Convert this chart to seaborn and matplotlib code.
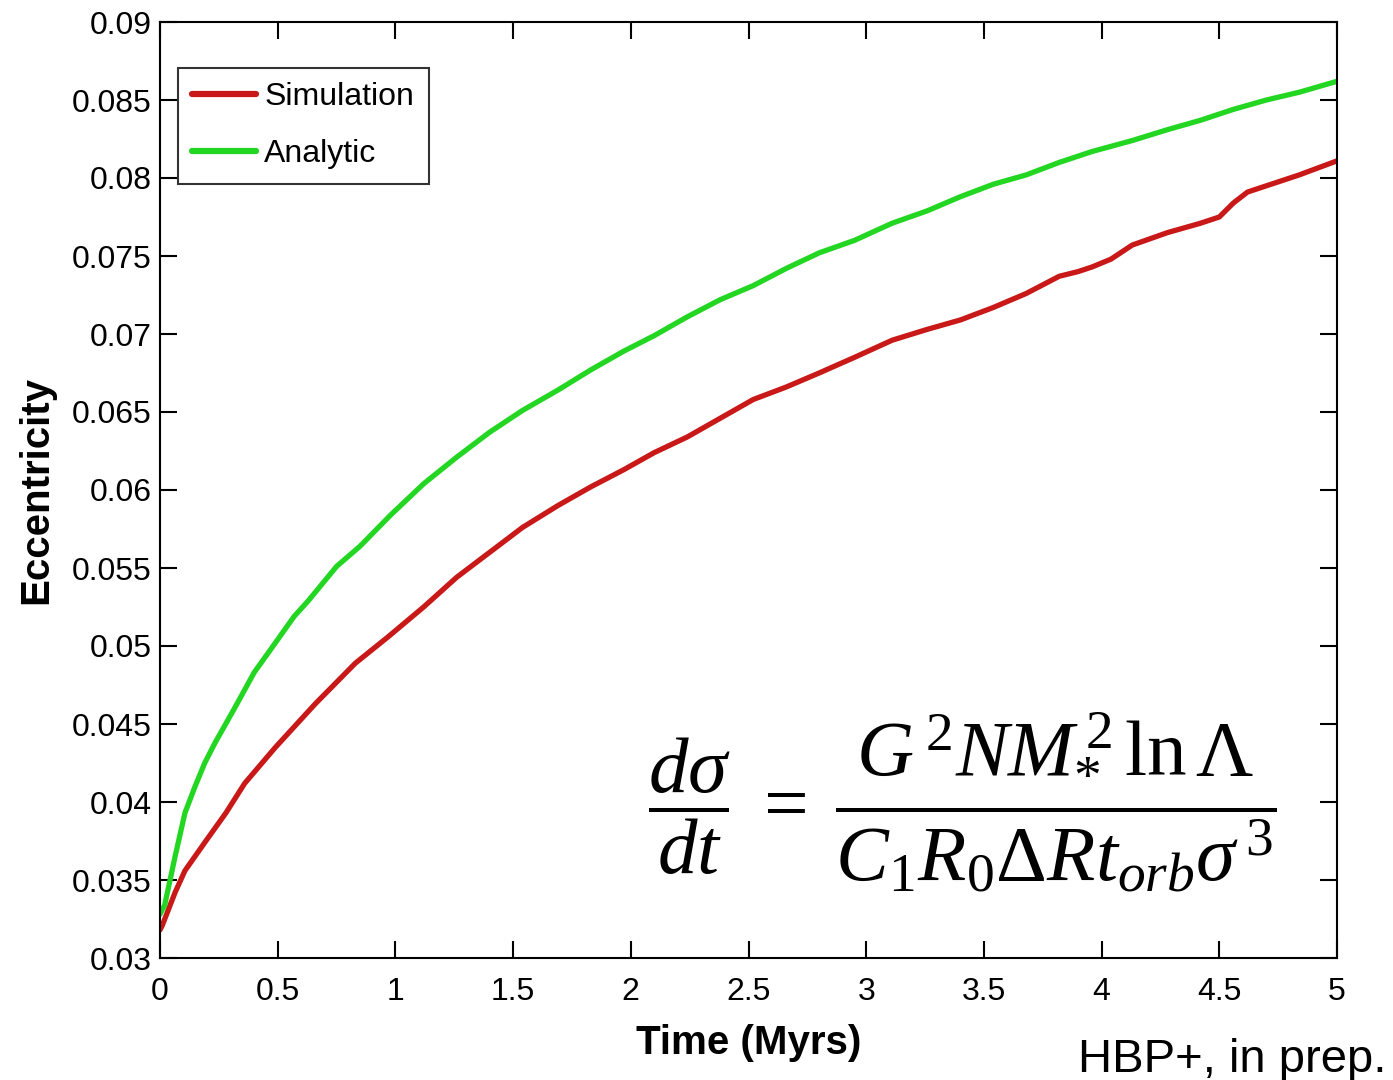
import numpy as np
import pandas as pd
import matplotlib
matplotlib.use("Agg")
import matplotlib.pyplot as plt
import seaborn as sns
from matplotlib.ticker import FuncFormatter, MultipleLocator

# ---- data ----
t_sim = [0, 0.01, 0.064, 0.106, 0.19, 0.28, 0.36, 0.49, 0.66, 0.83, 0.97, 1.12, 1.26,
         1.40, 1.54, 1.69, 1.83, 1.97, 2.10, 2.24, 2.38, 2.52, 2.66, 2.80, 2.95, 3.11,
         3.26, 3.40, 3.54, 3.68, 3.82, 3.90, 3.96, 4.04, 4.13, 4.28, 4.42, 4.50, 4.56,
         4.62, 4.70, 4.84, 5.0]
e_sim = [0.0318, 0.0321, 0.0342, 0.0356, 0.0374, 0.0393, 0.0412, 0.0435, 0.0463, 0.0489,
         0.0506, 0.0525, 0.0544, 0.0560, 0.0576, 0.0590, 0.0602, 0.0613, 0.0624, 0.0634,
         0.0646, 0.0658, 0.0666, 0.0675, 0.0685, 0.0696, 0.0703, 0.0709, 0.0717, 0.0726,
         0.0737, 0.0740, 0.0743, 0.0748, 0.0757, 0.0765, 0.0771, 0.0775, 0.0784, 0.0791,
         0.0795, 0.0802, 0.0811]

t_ana = [0, 0.02, 0.064, 0.106, 0.149, 0.19, 0.234, 0.32, 0.40, 0.49, 0.57, 0.63, 0.75,
         0.85, 0.98, 1.12, 1.26, 1.40, 1.54, 1.69, 1.83, 1.97, 2.10, 2.24, 2.38, 2.52,
         2.66, 2.80, 2.95, 3.11, 3.26, 3.40, 3.54, 3.68, 3.82, 3.96, 4.13, 4.28, 4.42,
         4.56, 4.70, 4.84, 5.0]
e_ana = [0.0328, 0.0334, 0.0365, 0.0393, 0.0410, 0.0425, 0.0438, 0.0461, 0.0483, 0.0502,
         0.0519, 0.0529, 0.0551, 0.0564, 0.0584, 0.0604, 0.0621, 0.0637, 0.0651, 0.0664,
         0.0677, 0.0689, 0.0699, 0.0711, 0.0722, 0.0731, 0.0742, 0.0752, 0.0760, 0.0771,
         0.0779, 0.0788, 0.0796, 0.0802, 0.0810, 0.0817, 0.0824, 0.0831, 0.0837, 0.0844,
         0.0850, 0.0855, 0.0862]

series_names = ["Simulation", "Analytic"]
series_colors = ["#c81818", "#22d622"]

df = pd.concat([
    pd.DataFrame({"Time": t_sim, "Eccentricity": e_sim, "series": series_names[0]}),
    pd.DataFrame({"Time": t_ana, "Eccentricity": e_ana, "series": series_names[1]}),
])

sns.set_theme(style="ticks")
plt.rcParams["font.family"] = ["Liberation Sans", "DejaVu Sans"]
plt.rcParams["mathtext.fontset"] = "custom"
plt.rcParams["mathtext.rm"] = "Liberation Serif"
plt.rcParams["mathtext.it"] = "Liberation Serif:italic"
plt.rcParams["mathtext.bf"] = "Liberation Serif:bold"

fig = plt.figure(figsize=(13.93, 10.8), dpi=100)
ax = fig.add_axes([160 / 1393, 1 - 958 / 1080, (1337 - 160) / 1393, (958 - 22) / 1080])

sns.lineplot(data=df, x="Time", y="Eccentricity", hue="series",
             hue_order=series_names, palette=series_colors, linewidth=3.8,
             ax=ax, sort=False, estimator=None)

ax.set_xlim(0, 5)
ax.set_ylim(0.03, 0.09)
ax.xaxis.set_major_locator(MultipleLocator(0.5))
ax.yaxis.set_major_locator(MultipleLocator(0.005))

def fmt(v, pos):
    s = f"{v:.3f}".rstrip("0").rstrip(".")
    return s

ax.xaxis.set_major_formatter(FuncFormatter(fmt))
ax.yaxis.set_major_formatter(FuncFormatter(fmt))
ax.tick_params(direction="in", length=12, width=1.5, top=True, right=True,
               labelsize=23, colors="black")
ax.tick_params(axis="x", pad=14)
ax.tick_params(axis="y", pad=6)
for sp in ax.spines.values():
    sp.set_visible(True)
    sp.set_linewidth(1.5)
    sp.set_color("black")

ax.set_xlabel("Time (Myrs)", fontsize=29, fontweight="bold", labelpad=12, color="black")
ax.set_ylabel("Eccentricity", fontsize=29, fontweight="bold", labelpad=12, color="black")

leg = ax.legend(loc="upper left", bbox_to_anchor=(0.0153, 0.951), borderaxespad=0,
                fontsize=23, handlelength=2.0, frameon=True, fancybox=False,
                edgecolor="black", borderpad=0.45, labelspacing=0.85, handletextpad=0.25)
leg.get_frame().set_linewidth(1.5)
for line in leg.get_lines():
    line.set_linewidth(4.5)
for txt in leg.get_texts():
    txt.set_color("black")

formula = (r"$\dfrac{d\sigma}{dt}\;=\;\dfrac{G^{\,2}NM_{*}^{\,2}\,\ln\Lambda}"
           r"{C_{1}R_{0}\Delta Rt_{orb}\sigma^{\,3}}$")
ax.text(0.682, 0.167, formula, transform=ax.transAxes, ha="center", va="center",
        fontsize=57, color="black")

fig.text(0.995, (1080 - 1072) / 1080, "HBP+, in prep.", ha="right", va="baseline",
         fontsize=34, color="black")

fig.savefig("out.png", dpi=100, facecolor="white")
